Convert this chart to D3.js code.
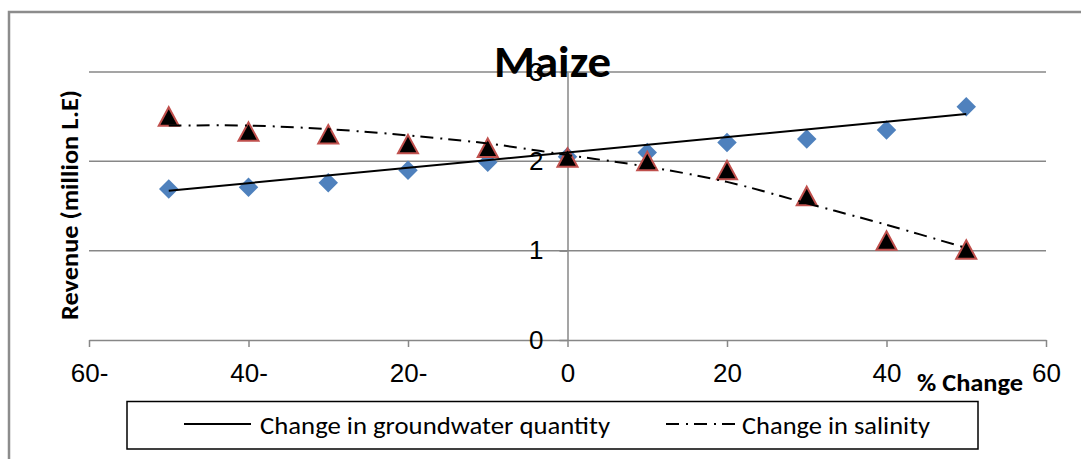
<!DOCTYPE html>
<html>
<head>
<meta charset="utf-8">
<script src="https://cdn.jsdelivr.net/npm/d3@7"></script>
<style>
  html, body { margin: 0; padding: 0; background: #fff; }
  svg { display: block; }
</style>
</head>
<body>
<svg id="chart" width="1081" height="459"></svg>
<script>
// ---- data ----
const pctChange = [-50, -40, -30, -20, -10, 0, 10, 20, 30, 40, 50];
const groundwater = [1.69, 1.71, 1.76, 1.90, 1.99, 2.05, 2.10, 2.21, 2.25, 2.35, 2.61];
const salinity = [2.50, 2.33, 2.30, 2.19, 2.15, 2.04, 2.00, 1.90, 1.61, 1.11, 1.01];
// trend lines as drawn in the picture
const groundwaterTrendX = [-50, 50];
const groundwaterTrend = [1.67, 2.53];
const salinityTrend = [2.40, 2.40, 2.36, 2.29, 2.20, 2.07, 1.94, 1.77, 1.53, 1.29, 1.03];
const xTicks = [-60, -40, -20, 0, 20, 40, 60];
const xTickLabels = ["60-", "40-", "20-", "0", "20", "40", "60"];
const yTicks = [0, 1, 2, 3];
const seriesNames = ["Change in groundwater quantity", "Change in salinity"];
const chartTitle = "Maize";
const yTitle = "Revenue (million L.E)";
const xTitle = "% Change";

const svg = d3.select("#chart");
const calibri = "Carlito, Calibri, Lato, 'Noto Sans', sans-serif";
const arial = "'Liberation Sans', Arial, sans-serif";
const grid = "#878787";
const dashDot = "13,7,2,6";

// outer chart border
svg.append("rect").attr("x", 9).attr("y", 12).attr("width", 1100).attr("height", 480)
  .attr("fill", "none").attr("stroke", "#8c8c8c").attr("stroke-width", 2.5);

const x = d3.scaleLinear().domain([-60, 60]).range([89, 1046]);
const y = d3.scaleLinear().domain([0, 3]).range([340, 72]);

// gridlines
svg.append("g").selectAll("line").data(yTicks.filter(v => v > 0)).join("line")
  .attr("x1", x(-60)).attr("x2", x(60))
  .attr("y1", d => y(d)).attr("y2", d => y(d))
  .attr("stroke", grid).attr("stroke-width", 1.5);

// x axis
const xAxis = svg.append("g").attr("transform", `translate(0,${y(0)})`)
  .call(d3.axisBottom(x).tickValues(xTicks).tickSize(7).tickSizeOuter(0).tickPadding(17)
    .tickFormat((d, i) => xTickLabels[i]));
xAxis.selectAll("path, line").attr("stroke", grid).attr("stroke-width", 1.5);
xAxis.selectAll("text").attr("font-family", arial).attr("font-size", 26).attr("fill", "#000");

// y axis at x = 0
const yAxis = svg.append("g").attr("transform", `translate(${x(0)},0)`)
  .call(d3.axisLeft(y).tickValues(yTicks).tickSize(8).tickSizeOuter(0).tickPadding(16)
    .tickFormat(d3.format("d")));
yAxis.selectAll("path, line").attr("stroke", grid).attr("stroke-width", 1.5);
yAxis.selectAll("text").attr("font-family", arial).attr("font-size", 26).attr("fill", "#000");

// markers: diamonds (groundwater)
svg.append("g").selectAll("path").data(pctChange).join("path")
  .attr("d", d3.symbol(d3.symbolSquare, 190))
  .attr("transform", (d, i) => `translate(${x(d)},${y(groundwater[i])}) rotate(45)`)
  .attr("fill", "#4F81BD");

// markers: triangles (salinity)
const tri = "M0,-9.5L10,9L-10,9Z";
svg.append("g").selectAll("path").data(pctChange).join("path")
  .attr("d", tri)
  .attr("transform", (d, i) => `translate(${x(d)},${y(salinity[i])})`)
  .attr("fill", "#000").attr("stroke", "#C0504D").attr("stroke-width", 2);

// trend lines
svg.append("path")
  .datum(groundwaterTrendX.map((d, i) => [d, groundwaterTrend[i]]))
  .attr("d", d3.line().x(d => x(d[0])).y(d => y(d[1])))
  .attr("fill", "none").attr("stroke", "#000").attr("stroke-width", 2);

svg.append("path")
  .datum(pctChange.map((d, i) => [d, salinityTrend[i]]))
  .attr("d", d3.line().x(d => x(d[0])).y(d => y(d[1])).curve(d3.curveCatmullRom))
  .attr("fill", "none").attr("stroke", "#000").attr("stroke-width", 2)
  .attr("stroke-dasharray", dashDot);

// title
svg.append("text").attr("x", 552.5).attr("y", 77).attr("text-anchor", "middle")
  .attr("font-family", calibri).attr("font-weight", "bold").attr("font-size", 44)
  .attr("textLength", 117).attr("lengthAdjust", "spacingAndGlyphs")
  .text(chartTitle);

// y title
svg.append("text").attr("transform", "translate(78,205) rotate(-90)")
  .attr("text-anchor", "middle")
  .attr("font-family", calibri).attr("font-weight", "bold").attr("font-size", 24)
  .attr("textLength", 230).attr("lengthAdjust", "spacingAndGlyphs")
  .text(yTitle);

// x title
svg.append("text").attr("x", 917).attr("y", 391)
  .attr("font-family", calibri).attr("font-weight", "bold").attr("font-size", 24)
  .attr("textLength", 106).attr("lengthAdjust", "spacingAndGlyphs")
  .text(xTitle);

// legend
svg.append("rect").attr("x", 127).attr("y", 401.5).attr("width", 851).attr("height", 47.5)
  .attr("fill", "#fff").attr("stroke", "#000").attr("stroke-width", 1.5);
const legendItems = [
  { x1: 184, x2: 251, tx: 260, tw: 350, dash: null },
  { x1: 666, x2: 736, tx: 742, tw: 188, dash: dashDot }
];
const lg = svg.append("g").selectAll("g").data(legendItems).join("g");
lg.append("line").attr("x1", d => d.x1).attr("x2", d => d.x2).attr("y1", 424).attr("y2", 424)
  .attr("stroke", "#000").attr("stroke-width", 2)
  .attr("stroke-dasharray", d => d.dash);
lg.append("text").attr("x", d => d.tx).attr("y", 434)
  .attr("font-family", calibri).attr("font-size", 25)
  .attr("textLength", d => d.tw).attr("lengthAdjust", "spacingAndGlyphs")
  .text((d, i) => seriesNames[i]);
</script>
</body>
</html>
